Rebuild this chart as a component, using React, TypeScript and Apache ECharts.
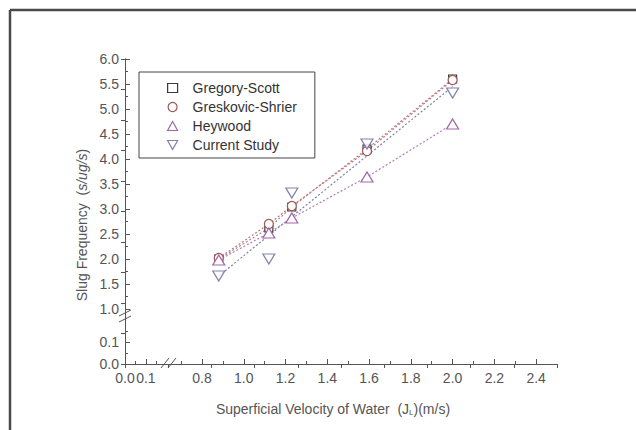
import React, { useEffect, useRef } from "react";
import * as echarts from "echarts";

// ---- data ----
const xValues = [0.88, 1.12, 1.23, 1.59, 2.0];
const gregoryScott = [2.0, 2.62, 3.04, 4.2, 5.6];
const greskovicShrier = [2.02, 2.7, 3.06, 4.16, 5.58];
const heywood = [1.98, 2.52, 2.82, 3.64, 4.7];
const currentStudy = [1.66, 2.0, 3.32, 4.3, 5.32];
const currentFitX = [0.88, 2.0];
const currentFitY = [1.66, 5.45];

const xMajorTicks = [0, 0.1, 0.8, 1.0, 1.2, 1.4, 1.6, 1.8, 2.0, 2.2, 2.4];
const xMinorTicks = [0.05, 0.15, 0.7, 0.9, 1.1, 1.3, 1.5, 1.7, 1.9, 2.1, 2.3];
const yUpperMajor = [1.0, 1.5, 2.0, 2.5, 3.0, 3.5, 4.0, 4.5, 5.0, 5.5, 6.0];
const yUpperMinor = [1.25, 1.75, 2.25, 2.75, 3.25, 3.75, 4.25, 4.75, 5.25, 5.75];
const yLowerMajor = [0, 0.1];
const yLowerMinor = [0.05, 0.15];

const FONT = "'Liberation Sans', Arial, sans-serif";
const AX = "#555";

const pairs = (xs: number[], ys: number[]) => xs.map((x, i) => [x, ys[i]]);

const xBreaks = [{ start: 0.2, end: 0.661, gap: 0.03 }];

export default function App() {
  const ref = useRef<HTMLDivElement>(null);
  useEffect(() => {
    if (!ref.current) return;
    const chart = echarts.init(ref.current, null, { renderer: "svg" });

    const hollow = (c: string) => ({ color: "#fff", borderColor: c, borderWidth: 1.2 });
    const cGS = "#3a3a3a";
    const cGSh = "#a05a55";
    const cHey = "#a466a8";
    const cCur = "#62629e";
    const triDown = "path://M0,0L10,0L5,9Z";

    const grid1Axis = { xAxisIndex: 1, yAxisIndex: 1 };

    const option: any = {
      animation: false,
      backgroundColor: "#fff",
      textStyle: { fontFamily: FONT },
      grid: [
        { left: 125, top: 59, width: 432, height: 305 },
        { left: 125, top: 59, width: 432, height: 255 },
        { left: 125, top: 322, width: 432, height: 42 },
      ],
      xAxis: [
        {
          type: "value", gridIndex: 0, position: "top", min: 0, max: 10, interval: 1,
          axisLine: { show: true, lineStyle: { color: AX, width: 1 } },
          axisTick: { show: true, inside: true, length: 4, lineStyle: { color: AX } },
          axisLabel: { show: false }, splitLine: { show: false },
        },
        {
          type: "value", gridIndex: 1, min: 0, max: 2.5, breaks: xBreaks,
          breakArea: { show: false },
          axisLine: { show: false }, axisTick: { show: false },
          axisLabel: { show: false }, splitLine: { show: false },
        },
        {
          type: "value", gridIndex: 2, position: "bottom", min: 0, max: 2.5, breaks: xBreaks,
          breakArea: { show: false },
          axisLine: { show: true, lineStyle: { color: AX, width: 1 } },
          axisTick: { show: true, inside: true, length: 5, customValues: xMajorTicks, lineStyle: { color: AX } },
          axisLabel: {
            show: true, customValues: xMajorTicks, color: AX, fontSize: 14, margin: 7, fontFamily: FONT,
            formatter: (v: number) => v.toFixed(1),
          },
          splitLine: { show: false },
          name: "Superficial Velocity of Water  (J{sub|L})(m/s)",
          nameLocation: "middle",
          nameGap: 38,
          nameTextStyle: {
            color: AX, fontSize: 14, fontFamily: FONT, padding: [0, 16, 0, 0],
            rich: { sub: { fontSize: 8, color: AX, verticalAlign: "bottom", padding: [6, 0, 0, 0] } },
          },
        },
        {
          type: "value", gridIndex: 2, position: "bottom", min: 0, max: 2.5, breaks: xBreaks,
          breakArea: { show: false },
          axisLine: { show: false },
          axisTick: { show: true, inside: true, length: 3, customValues: xMinorTicks, lineStyle: { color: AX } },
          axisLabel: { show: false }, splitLine: { show: false },
        },
      ],
      yAxis: [
        {
          type: "value", gridIndex: 0, position: "right", min: 0, max: 10, interval: 1,
          axisLine: { show: true, lineStyle: { color: AX, width: 1 } },
          axisTick: { show: true, inside: true, length: 4, lineStyle: { color: AX } },
          axisLabel: { show: false }, splitLine: { show: false },
        },
        {
          type: "value", gridIndex: 1, position: "left", min: 0.9, max: 6.0,
          axisLine: { show: true, lineStyle: { color: AX, width: 1 } },
          axisTick: { show: true, inside: true, length: 5, customValues: yUpperMajor, lineStyle: { color: AX } },
          axisLabel: {
            show: true, customValues: yUpperMajor, color: AX, fontSize: 14, margin: 6, fontFamily: FONT,
            formatter: (v: number) => v.toFixed(1),
          },
          splitLine: { show: false },
        },
        {
          type: "value", gridIndex: 1, position: "left", min: 0.9, max: 6.0,
          axisLine: { show: false },
          axisTick: { show: true, inside: true, length: 3, customValues: yUpperMinor, lineStyle: { color: AX } },
          axisLabel: { show: false }, splitLine: { show: false },
        },
        {
          type: "value", gridIndex: 2, position: "left", min: 0, max: 0.19,
          axisLine: { show: true, lineStyle: { color: AX, width: 1 } },
          axisTick: { show: true, inside: true, length: 5, customValues: yLowerMajor, lineStyle: { color: AX } },
          axisLabel: {
            show: true, customValues: yLowerMajor, color: AX, fontSize: 14, margin: 6, fontFamily: FONT,
            formatter: (v: number) => v.toFixed(1),
          },
          splitLine: { show: false },
        },
        {
          type: "value", gridIndex: 2, position: "left", min: 0, max: 0.19,
          axisLine: { show: false },
          axisTick: { show: true, inside: true, length: 3, customValues: yLowerMinor, lineStyle: { color: AX } },
          axisLabel: { show: false }, splitLine: { show: false },
        },
      ],
      legend: {
        left: 139, top: 72, orient: "vertical",
        borderColor: "#444", borderWidth: 1, borderRadius: 0,
        padding: [9, 18, 6, 28],
        itemWidth: 10, itemHeight: 9, itemGap: 5,
        textStyle: { color: "#333", fontSize: 14, fontFamily: FONT, padding: [0, 0, 0, 10] },
        data: [
          { name: "Gregory-Scott", icon: "rect", itemStyle: hollow(cGS) },
          { name: "Greskovic-Shrier", icon: "circle", itemStyle: hollow(cGSh) },
          { name: "Heywood", icon: "triangle", itemStyle: hollow(cHey) },
          { name: "Current Study", icon: triDown, itemStyle: hollow(cCur) },
        ],
      },
      series: [
        {
          name: "Current Study fit", type: "line", ...grid1Axis,
          data: pairs(currentFitX, currentFitY), symbol: "none",
          lineStyle: { color: "#7884a8", width: 1.2, type: [2, 2] }, z: 2,
        },
        {
          name: "Gregory-Scott", type: "line", ...grid1Axis,
          data: pairs(xValues, gregoryScott), symbol: "rect", symbolSize: 8,
          itemStyle: hollow(cGS), lineStyle: { color: "#b08090", width: 1.2, type: [2, 2] }, z: 3,
        },
        {
          name: "Greskovic-Shrier", type: "line", ...grid1Axis,
          data: pairs(xValues, greskovicShrier), symbol: "circle", symbolSize: 9,
          itemStyle: hollow(cGSh), lineStyle: { color: "#c07878", width: 1.2, type: [2, 2] }, z: 3,
        },
        {
          name: "Heywood", type: "line", ...grid1Axis,
          data: pairs(xValues, heywood), symbol: "triangle", symbolSize: [12, 10],
          itemStyle: hollow(cHey), lineStyle: { color: "#b080b0", width: 1.2, type: [2, 2] }, z: 3,
        },
        {
          name: "Current Study", type: "scatter", ...grid1Axis,
          data: pairs(xValues, currentStudy), symbol: triDown, symbolSize: [12, 10],
          itemStyle: hollow(cCur), z: 4,
        },
      ],
      graphic: [
        { type: "line", shape: { x1: 10, y1: 10, x2: 636, y2: 10 }, style: { stroke: "#4a4a4a", lineWidth: 2.5 } },
        { type: "line", shape: { x1: 10, y1: 10, x2: 10, y2: 430 }, style: { stroke: "#4a4a4a", lineWidth: 2.5 } },
        // y break marks
        { type: "line", shape: { x1: 119, y1: 316, x2: 131, y2: 310 }, style: { stroke: AX, lineWidth: 1 } },
        { type: "line", shape: { x1: 119, y1: 322, x2: 131, y2: 316 }, style: { stroke: AX, lineWidth: 1 } },
        // x break marks
        { type: "rect", shape: { x: 165, y: 361, width: 7, height: 6 }, style: { fill: "#fff" } },
        { type: "line", shape: { x1: 161, y1: 368, x2: 169, y2: 358 }, style: { stroke: AX, lineWidth: 1 } },
        { type: "line", shape: { x1: 168, y1: 368, x2: 176, y2: 358 }, style: { stroke: AX, lineWidth: 1 } },
        {
          type: "text", x: 82, y: 225, rotation: Math.PI / 2,
          style: {
            text: "{n|Slug Frequency  (}{i|s/ug/s}{n|)}",
            align: "center", verticalAlign: "middle",
            rich: {
              n: { fontSize: 14, fill: AX, fontFamily: FONT },
              i: { fontSize: 14, fill: AX, fontFamily: FONT, fontStyle: "italic" },
            },
          },
        },
      ],
    };
    chart.setOption(option);
    return () => chart.dispose();
  }, []);
  return (
    <div
      ref={ref}
      style={{ position: "fixed", left: 0, top: 0, width: 636, height: 430, background: "#fff" }}
    />
  );
}
